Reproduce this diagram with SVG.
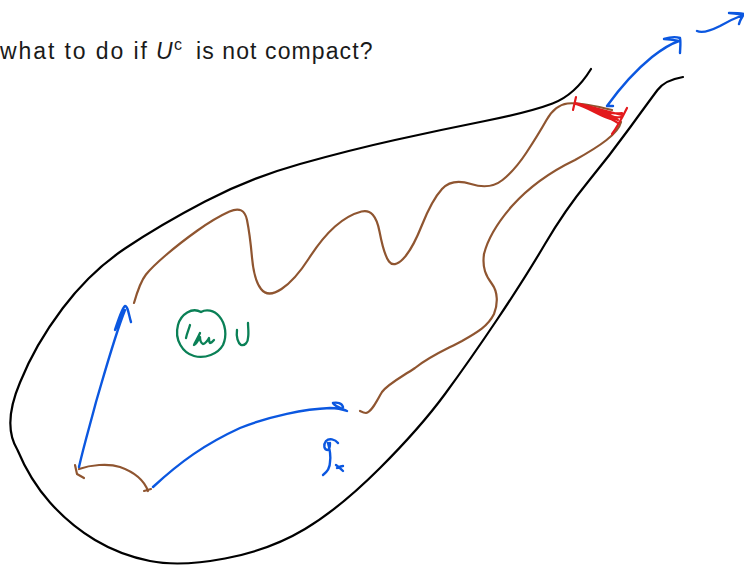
<svg xmlns="http://www.w3.org/2000/svg" width="744" height="565" viewBox="0 0 744 565">
<style>
text{font-family:"Liberation Sans",Arial,sans-serif;font-size:23px;fill:#1a1a1a;letter-spacing:1.1px}
path{fill:none;stroke-linecap:round;stroke-linejoin:round}
.k{stroke:#000;stroke-width:2.2}
.b{stroke:#8f5530;stroke-width:2.2}
.u{stroke:#0b57e0;stroke-width:2.4}
.r{stroke:#e3191c;stroke-width:2.2}
.g{stroke:#0a8056;stroke-width:2.3}
</style>
<rect width="744" height="565" fill="#fff"/>
<text y="59"><tspan x="0" letter-spacing="1.9">what to do if</tspan><tspan x="156" font-style="italic">U</tspan><tspan x="174" y="50" font-size="16">c</tspan><tspan x="196" y="59">is not compact?</tspan></text>
<g id="connectors">
<path class="k" d="M591 69Q575 95 552.500 103.500Q530 112 485 121Q440 130 395 140Q350 150 300 164Q250 178 205 201.500Q160 225 125 248.500Q90 272 62.500 308.500Q35 345 20 382.500Q2 425 17.500 450Q30 480 50 502.500Q70 525 95 540Q120 555 150 561Q180 567 225 558.500Q270 550 305 529Q340 508 380 468Q420 428 445 394Q470 360 497.500 319Q525 278 545 244Q565 210 587.500 182.500Q610 155 630 127.500Q650 100 657.500 90Q665 80 683 77"/>
<path class="b" d="M134 303Q140 282 146 274.500Q152 267 166 255Q180 243 197.500 230.500Q215 218 229.500 211.500Q244 205 247 220Q250 235 252 257.500Q254 280 261 289Q268 298 281.500 289Q295 280 308.500 259Q322 238 335 226.500Q348 215 361.500 211.500Q375 208 379.500 231.500Q384 255 389 261.500Q394 268 403 259Q412 250 422 225Q432 200 442 189Q452 178 471 184Q490 190 502.500 180Q515 170 526.500 152.500Q538 135 546.500 120Q555 105 567.500 103.500Q580 102 612 110"/>
<path class="b" d="M621 122C618 134 600 146 575 160C550 172 530 186 512 206C498 222 488 238 484 254C482 268 486 276 492 284C498 292 498 304 494 314C488 326 478 332 462 341C445 350 430 356 415 368C400 378 388 384 382 392C377 400 372 412 366 413C364 413 362 412 360 411"/>
<path class="b" d="M79 469C90 465 108 463 120 467C134 472 144 480 148 491M75 465L77 474L84 478M144 491L151 489"/>
<path class="u" d="M79 467C84 445 90 425 96 402C104 375 115 335 125 310C122 312 119 322 115 330C119 318 122 308 125 306C128 306 129 316 131 322"/>
<path class="u" d="M153 487C180 462 205 444 240 428C270 416 305 409 330 408C336 408 342 409 347 411C340 408 334 406 333 403C337 402 342 403 343 407"/>
<path class="u" d="M613 106L607 106C620 88 636 70 652 57C661 50 670 44 679 41C674 40 668 39 664 39C670 37 677 37 680 38C681 43 680 49 680 53"/>
<path class="u" d="M697 31C703 34 712 30 720 26C727 22 735 18 743 15C738 14 733 13 729 13C734 13 739 13 744 14C742 17 740 20 739 24"/>
<path class="u" d="M338 443C335 439 329 438 326 441C323 445 324 450 328 450C330 449 330 446 330 443M328 443C330 450 331 456 330 462C330 468 327 472 323 475M336 465C339 467 341 469 343 471M337 468C339 467 341 466 343 466"/>
<path class="r" d="M576 97L573 110M575 103C590 106 605 111 622 115M627 108C622 118 618 126 612 134M576 104C590 108 602 118 614 120M580 104C592 109 604 115 616 118M600 110C608 116 612 118 618 120M590 107C600 112 612 114 622 113M606 112C610 116 616 118 621 117M586 106C596 112 606 116 618 123"/>
</g>
<g id="u-mark">
<path class="g" d="M201 312C192 307 181 314 178 325C174 340 183 353 194 356C205 359 218 354 223 345C227 336 226 324 219 316C214 310 206 309 201 312"/>
<path class="g" d="M190 325C189 329 187 333 186 338M200 333C198 338 195 342 194 345C197 344 199 338 200 337C200 340 201 343 203 344C205 344 208 340 209 338C209 340 209 342 210 343C212 343 213 341 214 340"/>
<path class="g" d="M237 330C236 337 238 343 241 345C245 346 248 342 248 338C249 333 248 328 248 323"/>
</g>
</svg>
